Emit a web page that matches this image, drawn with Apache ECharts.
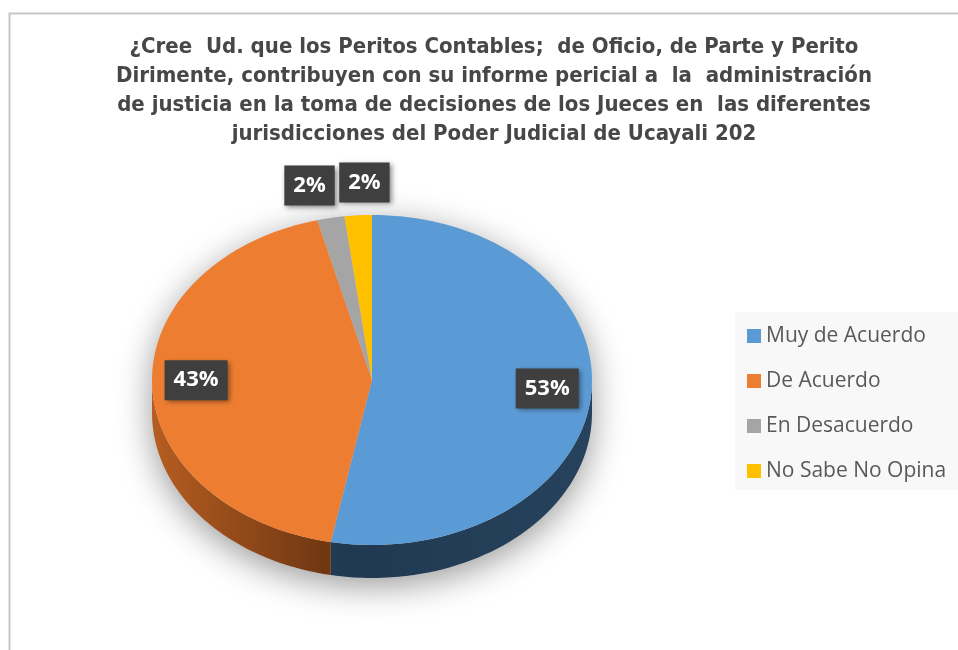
<!DOCTYPE html>
<html>
<head>
<meta charset="utf-8">
<script src="https://cdn.jsdelivr.net/npm/echarts@6/dist/echarts.min.js"></script>
<style>
  html, body { margin: 0; padding: 0; background: #fff; }
  #chart { width: 958px; height: 650px; }
</style>
</head>
<body>
<div id="chart"></div>
<script>
var categories = ['Muy de Acuerdo', 'De Acuerdo', 'En Desacuerdo', 'No Sabe No Opina'];
var values = [53, 43, 2, 2];
var colors = ['#5b9bd5', '#ed7d31', '#a5a5a5', '#ffc000'];
var titleLines = [
  '¿Cree  Ud. que los Peritos Contables;  de Oficio, de Parte y Perito',
  'Dirimente, contribuyen con su informe pericial a  la  administración',
  'de justicia en la toma de decisiones de los Jueces en  las diferentes',
  'jurisdicciones del Poder Judicial de Ucayali 202'
];

var total = values.reduce(function (s, v) { return s + v; }, 0);
// angles in degrees, starting at 12 o'clock and going clockwise
var slices = [];
var cum = 0;
values.forEach(function (v, i) {
  var a0 = 90 - 360 * cum / total;
  cum += v;
  slices.push([a0, 90 - 360 * cum / total, v, i]);
});

var DEPTH = 0.2;            // pie thickness, in y-axis units
var labelNudge = [0, 0, -13, 9];  // keep the two small labels apart

function pt(api, deg, r, dy) {
  var t = deg * Math.PI / 180;
  return api.coord([r * Math.cos(t), r * Math.sin(t) - (dy || 0)]);
}
function arc(api, from, to, dy) {
  var pts = [];
  var n = Math.max(2, Math.ceil(Math.abs(to - from) / 2));
  for (var k = 0; k <= n; k++) pts.push(pt(api, from + (to - from) * k / n, 1, dy));
  return pts;
}

function sideFill(idx, api) {
  var xl = api.coord([-1, 0])[0], xc = api.coord([0, 0])[0], xr = api.coord([1, 0])[0];
  if (idx === 1) {
    return { type: 'linear', global: true, x: xl, y: 0, x2: xc, y2: 0,
      colorStops: [{ offset: 0, color: '#b65d21' }, { offset: 1, color: '#5e2d0e' }] };
  }
  if (idx === 0) {
    return { type: 'linear', global: true, x: xc, y: 0, x2: xr, y2: 0,
      colorStops: [{ offset: 0, color: '#213a52' }, { offset: 1, color: '#26425c' }] };
  }
  return echarts.color.lift(colors[idx], -0.4);
}

function renderSlice(params, api) {
  var a0 = api.value(0), a1 = api.value(1), v = api.value(2), idx = api.value(3);
  var children = [];
  // front wall, only the lower half of the ellipse is visible
  [[-180, 0], [-540, -360]].forEach(function (w) {
    var hi = Math.min(a0, w[1]), lo = Math.max(a1, w[0]);
    if (hi > lo) {
      var top = arc(api, hi, lo, 0), bot = arc(api, lo, hi, DEPTH);
      children.push({ type: 'polygon', shape: { points: top.concat(bot) },
        style: { fill: sideFill(idx, api) } });
    }
  });
  var face = [api.coord([0, 0])].concat(arc(api, a0, a1, 0));
  children.push({ type: 'polygon', shape: { points: face }, style: { fill: colors[idx] } });

  var mid = (a0 + a1) / 2;
  var r = v / total > 0.1 ? 0.8 : 1.2;
  var p = pt(api, mid, r, 0);
  children.push({
    type: 'text', x: p[0] + labelNudge[idx], y: p[1] - (r < 1 ? 4 : 0), z2: 10,
    style: {
      text: Math.round(100 * v / total) + '%',
      fill: '#fff', font: 'bold 22px "Open Sans"',
      align: 'center', verticalAlign: 'middle',
      backgroundColor: '#3f3f3f', padding: [10, 9, 8, 9],
      shadowBlur: 5, shadowColor: 'rgba(0,0,0,0.45)', shadowOffsetX: 2, shadowOffsetY: 2
    }
  });
  return { type: 'group', children: children };
}

function renderBase(params, api) {
  var pts = arc(api, 0, 180, 0).concat(arc(api, 180, 360, DEPTH));
  return {
    type: 'polygon', shape: { points: pts },
    style: { fill: '#cfcfcf', shadowBlur: 34, shadowColor: 'rgba(0,0,0,0.4)', shadowOffsetY: 8 }
  };
}

var series = [{
  type: 'custom', name: 'base', coordinateSystem: 'cartesian2d', silent: true,
  data: [[0, 0]], renderItem: renderBase
}];
slices.forEach(function (s, i) {
  series.push({
    type: 'custom', name: categories[i], coordinateSystem: 'cartesian2d',
    itemStyle: { color: colors[i] },
    data: [s], renderItem: renderSlice
  });
});

var chart = echarts.init(document.getElementById('chart'));
chart.setOption({
  animation: false,
  title: {
    text: titleLines.join('\n'),
    left: 489, top: 28, textAlign: 'center',
    textStyle: {
      fontFamily: '"Liberation Sans Narrow", "DejaVu Sans Condensed", sans-serif',
      fontWeight: 'bold', fontSize: 22, lineHeight: 29, color: '#474747'
    }
  },
  legend: {
    orient: 'vertical', left: 735, top: 312,
    data: categories, icon: 'rect', itemWidth: 14, itemHeight: 14, itemGap: 23,
    padding: [13, 14, 8, 12], backgroundColor: '#f8f8f8',
    textStyle: { fontFamily: '"Open Sans"', fontSize: 21, lineHeight: 22, color: '#595959' }
  },
  grid: { left: 152, top: 215, width: 440, height: 330 },
  xAxis: { type: 'value', min: -1, max: 1, show: false },
  yAxis: { type: 'value', min: -1, max: 1, show: false },
  graphic: [{
    type: 'rect', silent: true,
    shape: { x: 9.5, y: 13.5, width: 1000, height: 700 },
    style: { fill: null, stroke: '#c8c8c8', lineWidth: 2 }
  }],
  series: series
});
</script>
</body>
</html>
